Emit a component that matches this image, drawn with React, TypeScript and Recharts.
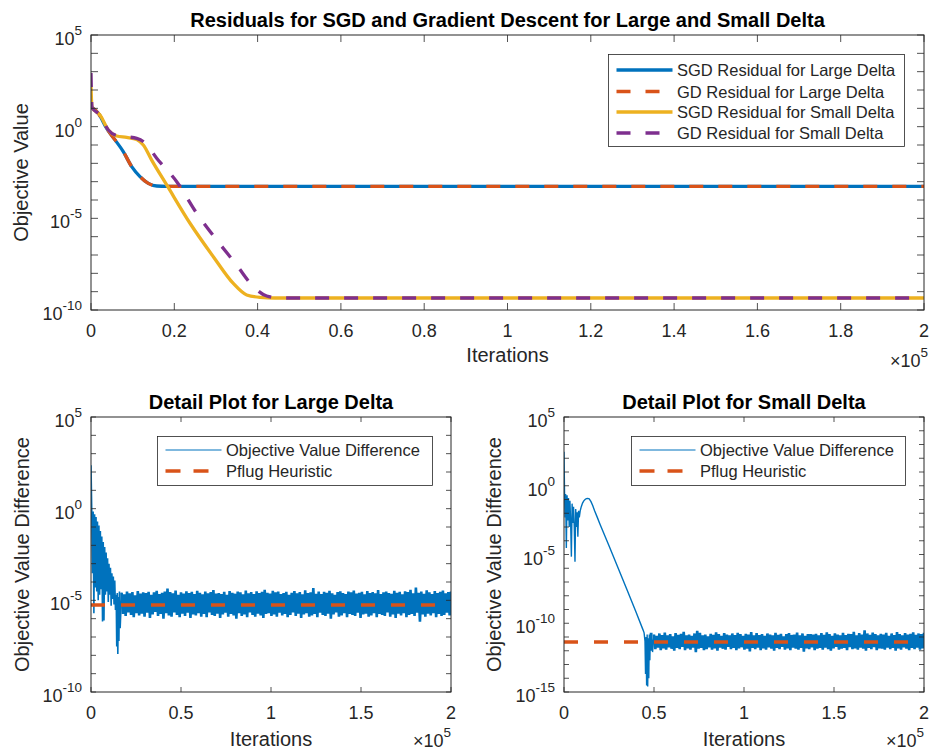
import { LineChart, Line, XAxis, YAxis } from "recharts";

const FONT = '"Liberation Sans", Arial, Helvetica, sans-serif';
const INK = "#262626";
const BLUE = "#0072BD";
const ORANGE = "#D95319";
const YELLOW = "#EDB120";
const PURPLE = "#7E2F8E";

// top panel: residual curves
const sgdLargeIter = [0, 1750, 3770, 5760, 7750, 9770, 11760, 13760, 15770, 18180, 25000, 200000];
const sgdLargeVal = [12, 5.4, 0.8, 0.19, 0.044, 6.6e-3, 1.9e-3, 8.1e-4, 5.8e-4, 5.6e-4, 5.6e-4, 5.6e-4];
const gdLargeIter = [0, 1750, 3770, 5760, 7750, 9770, 11760, 13760, 15770, 18180, 25000, 200000];
const gdLargeVal = [12, 5.4, 0.8, 0.19, 0.044, 6.6e-3, 1.9e-3, 8.1e-4, 5.8e-4, 5.6e-4, 5.6e-4, 5.6e-4];
const sgdSmallIter = [0, 250, 2160, 4150, 6170, 8570, 10970, 12560, 14570, 18180, 23770, 29370, 34170, 37390, 40580, 44180, 200000];
const sgdSmallVal = [150, 11, 4.3, 0.66, 0.31, 0.26, 0.2, 0.1, 0.015, 6.6e-4, 5.4e-6, 8.1e-8, 2.8e-9, 6.6e-10, 4.9e-10, 4.5e-10, 4.5e-10];
const gdSmallIter = [0, 250, 2160, 4150, 6170, 8570, 10970, 12970, 15770, 20580, 25380, 30180, 34980, 38970, 42190, 45380, 200000];
const gdSmallVal = [850, 11, 4.3, 0.66, 0.33, 0.28, 0.23, 0.13, 0.019, 1e-3, 1.9e-5, 6.6e-7, 2.8e-8, 1.9e-9, 5.8e-10, 4.5e-10, 4.5e-10];

// bottom left: large delta difference
const largeEarlyIter = [0, 400, 800, 1200, 1600, 2000, 2400, 2800, 3200, 3600, 4000, 4400, 4800, 5200, 5600, 6000, 6400, 6800, 7200, 7600, 8000, 8400, 8800, 9200, 9600, 10000, 10400, 10800, 11200, 11600, 12000, 12400, 12800, 13200, 13600, 14000, 14300, 14600, 14900, 15200, 15500, 15800, 16200, 17000];
const largeEarlyVal = [230, 0.9, 3e-4, 0.7, 2e-6, 0.5, 5e-5, 0.35, 3e-5, 0.2, 1e-5, 0.12, 2e-5, 0.06, 4e-5, 0.03, 7e-7, 0.015, 8e-7, 8e-3, 2e-5, 4e-3, 3e-5, 2e-3, 8e-6, 1e-3, 2e-5, 6e-4, 5e-6, 3e-4, 1.2e-5, 2e-4, 6e-6, 1.2e-4, 3e-6, 2e-5, 3e-8, 2.5e-5, 1.2e-8, 1.5e-5, 6e-8, 3e-5, 3e-7, 2.6e-5];
const largeBandStart = 17000;
const largeBandStep = 1500;
const largeBandHigh = [
  2.6e-5, 2.1e-5, 3.0e-5, 2.4e-5, 2.8e-5, 1.9e-5, 3.2e-5, 2.3e-5, 2.7e-5, 2.5e-5,
  2.9e-5, 2.0e-5, 2.7e-5, 3.3e-5, 2.2e-5, 2.6e-5, 3.0e-5, 4.4e-5, 2.8e-5, 2.4e-5,
  3.4e-5, 2.0e-5, 2.7e-5, 2.3e-5, 3.1e-5, 2.5e-5, 2.9e-5, 2.2e-5, 3.3e-5, 2.6e-5,
  2.1e-5, 3.0e-5, 2.4e-5, 2.8e-5, 3.6e-5, 2.3e-5, 2.5e-5, 2.2e-5, 2.9e-5, 2.0e-5,
  3.2e-5, 2.6e-5, 2.3e-5, 3.0e-5, 2.7e-5, 2.1e-5, 3.4e-5, 2.4e-5, 2.8e-5, 2.2e-5,
  3.1e-5, 2.5e-5, 2.9e-5, 3.8e-5, 2.6e-5, 2.3e-5, 3.3e-5, 2.7e-5, 3.0e-5, 2.2e-5,
  2.5e-5, 2.9e-5, 2.0e-5, 2.6e-5, 3.2e-5, 2.4e-5, 2.8e-5, 2.1e-5, 3.5e-5, 2.5e-5,
  2.7e-5, 4.6e-5, 2.3e-5, 3.0e-5, 2.2e-5, 2.9e-5, 2.6e-5, 3.3e-5, 2.4e-5, 2.0e-5,
  2.8e-5, 3.1e-5, 2.5e-5, 2.2e-5, 3.0e-5, 2.7e-5, 3.4e-5, 2.3e-5, 2.6e-5, 2.9e-5,
  2.1e-5, 3.2e-5, 2.5e-5, 2.8e-5, 2.4e-5, 3.6e-5, 2.2e-5, 2.7e-5, 3.0e-5, 2.5e-5,
  2.3e-5, 3.3e-5, 2.6e-5, 2.9e-5, 2.1e-5, 3.1e-5, 2.8e-5, 3.7e-5, 2.4e-5, 5.0e-5,
  2.6e-5, 3.0e-5, 2.3e-5, 3.5e-5, 2.7e-5, 2.2e-5, 3.2e-5, 2.5e-5, 2.9e-5, 3.4e-5,
  2.4e-5, 2.8e-5, 3.0e-5,
];
const largeBandLow = [
  1.8e-6, 1.4e-6, 2.2e-6, 1.6e-6, 1.2e-6, 2.0e-6, 1.5e-6, 1.9e-6, 1.3e-6, 2.1e-6,
  1.1e-6, 1.7e-6, 2.3e-6, 1.4e-6, 1.8e-6, 1.0e-6, 2.0e-6, 1.5e-6, 1.3e-6, 2.2e-6,
  1.6e-6, 1.2e-6, 1.9e-6, 1.4e-6, 2.1e-6, 1.1e-6, 1.7e-6, 1.5e-6, 2.0e-6, 1.3e-6,
  1.8e-6, 1.2e-6, 2.2e-6, 1.6e-6, 1.4e-6, 1.9e-6, 1.1e-6, 1.7e-6, 2.1e-6, 1.3e-6,
  1.8e-6, 1.5e-6, 1.0e-6, 2.0e-6, 1.4e-6, 1.7e-6, 1.2e-6, 2.2e-6, 1.6e-6, 1.3e-6,
  1.9e-6, 1.5e-6, 1.1e-6, 1.8e-6, 2.0e-6, 1.4e-6, 1.7e-6, 1.3e-6, 2.1e-6, 1.5e-6,
  1.8e-6, 1.2e-6, 1.6e-6, 2.2e-6, 1.4e-6, 1.9e-6, 1.1e-6, 1.7e-6, 2.0e-6, 1.3e-6,
  1.5e-6, 1.8e-6, 1.2e-6, 2.1e-6, 1.6e-6, 1.4e-6, 1.9e-6, 1.0e-6, 1.7e-6, 2.2e-6,
  1.3e-6, 1.5e-6, 2.0e-6, 1.2e-6, 1.8e-6, 1.6e-6, 1.4e-6, 2.1e-6, 1.1e-6, 1.7e-6,
  1.9e-6, 1.3e-6, 1.5e-6, 2.0e-6, 1.2e-6, 1.8e-6, 1.6e-6, 1.4e-6, 2.2e-6, 1.3e-6,
  1.7e-6, 1.1e-6, 1.9e-6, 1.5e-6, 2.0e-6, 1.2e-6, 1.6e-6, 1.8e-6, 1.4e-6, 2.1e-6,
  6.8e-7, 1.7e-6, 1.3e-6, 1.9e-6, 1.5e-6, 2.0e-6, 1.2e-6, 1.8e-6, 1.4e-6, 1.6e-6,
  2.1e-6, 1.5e-6,
];
const pflugLargeIter = [0, 200000];
const pflugLargeVal = [5.5e-6, 5.5e-6];

// bottom right: small delta difference
const smallEarlyIter = [0, 300, 600, 900, 1300, 1700, 2100, 2500, 2900, 3300, 3700, 4100, 4500, 4900, 5300, 5700, 6100, 6500, 6900, 7300, 7700, 8100, 8500, 9000, 9600, 10300, 11000, 11700, 12400, 13200, 14000, 15000, 16000, 17000, 18500, 20000, 25000, 30000, 35000, 40000, 43900, 44500, 45000, 45300, 45600, 45900, 46200, 46500, 46800, 47100, 47400, 47700, 48000, 48400, 48800, 49200, 50000];
const smallEarlyVal = [300, 0.3, 5e-3, 0.25, 3e-5, 0.2, 3e-3, 0.13, 1e-3, 0.08, 2e-3, 7e-6, 0.05, 2e-3, 0.03, 1e-3, 3e-6, 0.02, 1e-3, 0.012, 2e-4, 0.015, 5e-3, 0.015, 0.03, 0.055, 0.08, 0.1, 0.115, 0.12, 0.11, 0.07, 0.035, 0.015, 5e-3, 1.6e-3, 4.3e-5, 1.1e-6, 2.7e-8, 6.5e-10, 3.3e-11, 2e-11, 5e-12, 2e-14, 1e-11, 3e-15, 1.5e-11, 2.5e-15, 8e-12, 1e-14, 1.5e-11, 2e-13, 2e-11, 1e-12, 2e-11, 8e-13, 1.5e-11];
const smallBandStart = 50000;
const smallBandStep = 1500;
const smallBandHigh = [
  1.5e-11, 1.2e-11, 1.8e-11, 1.4e-11, 2.1e-11, 1.3e-11, 1.6e-11, 1.1e-11, 1.9e-11, 1.4e-11,
  1.7e-11, 2.4e-11, 1.3e-11, 1.5e-11, 1.2e-11, 1.8e-11, 2.8e-11, 2.0e-11, 1.3e-11, 1.5e-11,
  1.1e-11, 1.7e-11, 1.4e-11, 2.2e-11, 1.6e-11, 1.2e-11, 1.9e-11, 1.5e-11, 1.3e-11, 1.8e-11,
  1.4e-11, 2.0e-11, 1.6e-11, 1.2e-11, 1.7e-11, 1.5e-11, 2.3e-11, 1.3e-11, 1.9e-11, 1.4e-11,
  1.6e-11, 1.2e-11, 1.8e-11, 1.5e-11, 1.3e-11, 2.0e-11, 1.4e-11, 1.7e-11, 1.1e-11, 1.6e-11,
  1.9e-11, 1.4e-11, 1.5e-11, 2.1e-11, 1.3e-11, 1.8e-11, 1.2e-11, 1.6e-11, 1.6e-11, 1.5e-11,
  1.7e-11, 1.3e-11, 1.9e-11, 1.4e-11, 2.2e-11, 1.6e-11, 1.2e-11, 1.8e-11, 1.5e-11, 1.3e-11,
  2.0e-11, 1.4e-11, 1.7e-11, 1.6e-11, 2.4e-11, 1.3e-11, 1.9e-11, 1.5e-11, 3.0e-11, 1.8e-11,
  1.4e-11, 2.1e-11, 1.6e-11, 1.3e-11, 1.7e-11, 1.5e-11, 2.0e-11, 1.2e-11, 1.8e-11, 1.4e-11,
  2.3e-11, 1.6e-11, 1.3e-11, 1.9e-11, 1.5e-11, 1.7e-11, 2.2e-11, 1.4e-11, 1.8e-11, 1.6e-11,
  2.0e-11,
];
const smallBandLow = [
  1.3e-12, 1.7e-12, 1.1e-12, 1.5e-12, 1.2e-12, 1.8e-12, 1.4e-12, 1.0e-12, 1.6e-12, 1.3e-12,
  1.9e-12, 1.1e-12, 1.5e-12, 1.2e-12, 1.7e-12, 8.0e-13, 1.4e-12, 1.6e-12, 1.1e-12, 1.3e-12,
  1.8e-12, 1.2e-12, 1.5e-12, 1.0e-12, 1.7e-12, 1.4e-12, 1.2e-12, 1.9e-12, 1.3e-12, 1.6e-12,
  1.1e-12, 1.5e-12, 1.8e-12, 1.2e-12, 1.4e-12, 9.0e-13, 1.6e-12, 1.3e-12, 1.7e-12, 1.1e-12,
  1.5e-12, 1.2e-12, 1.8e-12, 1.4e-12, 1.0e-12, 1.6e-12, 1.3e-12, 1.9e-12, 1.2e-12, 1.5e-12,
  1.1e-12, 1.7e-12, 1.4e-12, 1.2e-12, 1.6e-12, 8.5e-13, 1.5e-12, 1.3e-12, 1.8e-12, 1.1e-12,
  1.4e-12, 1.6e-12, 1.2e-12, 1.7e-12, 1.3e-12, 1.0e-12, 1.5e-12, 1.9e-12, 1.2e-12, 1.4e-12,
  1.6e-12, 1.1e-12, 1.8e-12, 1.3e-12, 1.5e-12, 1.2e-12, 1.7e-12, 1.4e-12, 1.0e-12, 1.6e-12,
  1.3e-12, 1.8e-12, 1.1e-12, 1.5e-12, 1.4e-12, 1.2e-12, 1.7e-12, 1.3e-12, 1.6e-12, 1.0e-12,
  1.5e-12, 1.2e-12, 1.8e-12, 1.4e-12, 1.1e-12, 1.6e-12, 1.3e-12, 1.7e-12, 1.2e-12, 1.5e-12,
];
const pflugSmallIter = [0, 200000];
const pflugSmallVal = [4.3e-12, 4.3e-12];

// axes
const topXTicks = [0, 20000, 40000, 60000, 80000, 100000, 120000, 140000, 160000, 180000, 200000];
const topXLabels = ["0", "0.2", "0.4", "0.6", "0.8", "1", "1.2", "1.4", "1.6", "1.8", "2"];
const bottomXTicks = [0, 50000, 100000, 150000, 200000];
const bottomXLabels = ["0", "0.5", "1", "1.5", "2"];
const yTicks15 = [1e-10, 1e-9, 1e-8, 1e-7, 1e-6, 1e-5, 1e-4, 1e-3, 1e-2, 1e-1, 1, 10, 100, 1e3, 1e4, 1e5];
const yTicks20 = [1e-15, 1e-14, 1e-13, 1e-12, 1e-11, ...yTicks15];

type Pt = { it: number; v: number };

const toPoints = (its: number[], vs: number[]): Pt[] => its.map((it, i) => ({ it, v: vs[i] }));

// noisy band: alternate high/low samples
const band = (start: number, step: number, highs: number[], lows: number[]): Pt[] => {
  const pts: Pt[] = [];
  highs.forEach((h, i) => {
    pts.push({ it: start + i * step, v: h });
    if (i < lows.length) pts.push({ it: start + i * step + step / 2, v: lows[i] });
  });
  return pts;
};

const largeEarly = toPoints(largeEarlyIter, largeEarlyVal);
const largeBand = band(largeBandStart, largeBandStep, largeBandHigh, largeBandLow);
const smallEarly = toPoints(smallEarlyIter, smallEarlyVal);
const smallBand = band(smallBandStart, smallBandStep, smallBandHigh, smallBandLow);

function makeYTick(plotW: number, len: number) {
  return (props: any) => {
    const { x, y, payload } = props;
    const exp = Math.round(Math.log10(payload.value));
    return (
      <g>
        <line x1={x} x2={x + len} y1={y} y2={y} stroke={INK} strokeWidth={0.8} />
        <line x1={x + plotW - len} x2={x + plotW} y1={y} y2={y} stroke={INK} strokeWidth={0.8} />
        {exp % 5 === 0 && (
          <text x={x - 9} y={y + 10} textAnchor="end" fill={INK} fontSize={18} fontFamily={FONT}>
            10
            <tspan dy={-10} fontSize={13.5}>
              {exp}
            </tspan>
          </text>
        )}
      </g>
    );
  };
}

function makeXTick(plotH: number, len: number, ticks: number[], labels: string[]) {
  return (props: any) => {
    const { x, y, payload } = props;
    const label = labels[ticks.indexOf(payload.value)];
    return (
      <g>
        <line x1={x} x2={x} y1={y} y2={y - len} stroke={INK} strokeWidth={0.8} />
        <line x1={x} x2={x} y1={y - plotH} y2={y - plotH + len} stroke={INK} strokeWidth={0.8} />
        <text x={x} y={y + 27} textAnchor="middle" fill={INK} fontSize={18} fontFamily={FONT}>
          {label}
        </text>
      </g>
    );
  };
}

interface PanelProps {
  left: number;
  top: number;
  width: number;
  height: number;
  plotLeft: number;
  plotTop: number;
  plotW: number;
  plotH: number;
  yTicks: number[];
  xTicks: number[];
  xLabels: string[];
  tickLen: number;
  children: React.ReactNode;
}

function Panel(p: PanelProps) {
  return (
    <div style={{ position: "absolute", left: p.left, top: p.top }}>
      <LineChart
        width={p.width}
        height={p.height}
        margin={{ top: p.plotTop, left: 0, bottom: 0, right: p.width - p.plotLeft - p.plotW }}
      >
        <XAxis
          dataKey="it"
          type="number"
          domain={[0, 200000]}
          ticks={p.xTicks}
          interval={0}
          allowDataOverflow
          axisLine={false}
          tickLine={false}
          tickSize={0}
          tickMargin={0}
          height={p.height - p.plotTop - p.plotH}
          tick={makeXTick(p.plotH, p.tickLen, p.xTicks, p.xLabels)}
        />
        <YAxis
          type="number"
          scale="log"
          domain={[p.yTicks[0], p.yTicks[p.yTicks.length - 1]]}
          ticks={p.yTicks}
          interval={0}
          allowDataOverflow
          axisLine={false}
          tickLine={false}
          tickSize={0}
          tickMargin={0}
          width={p.plotLeft}
          tick={makeYTick(p.plotW, p.tickLen)}
        />
        {p.children}
      </LineChart>
    </div>
  );
}

const TEXT = { fontFamily: FONT, fill: INK };

function LegendBox({ x, y, w, h, items, textX }: { x: number; y: number; w: number; h: number; textX: number; items: { label: string; color: string; width: number; dash?: string; cy: number }[] }) {
  return (
    <g>
      <rect x={x} y={y} width={w} height={h} fill="#fff" stroke={INK} strokeWidth={0.8} />
      {items.map((it) => (
        <g key={it.label}>
          <line x1={x + 8} x2={x + 64} y1={it.cy} y2={it.cy} stroke={it.color} strokeWidth={it.width} strokeDasharray={it.dash} />
          <text x={textX} y={it.cy + 6} fontSize={16.5} {...TEXT}>
            {it.label}
          </text>
        </g>
      ))}
    </g>
  );
}

function Times10({ x, y }: { x: number; y: number }) {
  return (
    <text x={x} y={y} textAnchor="end" fontSize={18} {...TEXT}>
      ×10
      <tspan dy={-10} fontSize={13.5}>
        5
      </tspan>
    </text>
  );
}

export default function App() {
  return (
    <div style={{ position: "absolute", left: 0, top: 0, width: 934, height: 751, background: "#fff", overflow: "hidden" }}>
      <Panel left={0} top={0} width={934} height={370} plotLeft={91} plotTop={35} plotW={833} plotH={275} yTicks={yTicks15} xTicks={topXTicks} xLabels={topXLabels} tickLen={7}>
        <Line data={toPoints(sgdLargeIter, sgdLargeVal)} dataKey="v" type="monotone" stroke={BLUE} strokeWidth={3.3} dot={false} activeDot={false} isAnimationActive={false} />
        <Line data={toPoints(gdLargeIter, gdLargeVal)} dataKey="v" type="monotone" stroke={ORANGE} strokeWidth={3.3} strokeDasharray="14 15" dot={false} activeDot={false} isAnimationActive={false} />
        <Line data={toPoints(sgdSmallIter, sgdSmallVal)} dataKey="v" type="monotone" stroke={YELLOW} strokeWidth={3.3} dot={false} activeDot={false} isAnimationActive={false} />
        <Line data={toPoints(gdSmallIter, gdSmallVal)} dataKey="v" type="monotone" stroke={PURPLE} strokeWidth={3.3} strokeDasharray="14 15" dot={false} activeDot={false} isAnimationActive={false} />
      </Panel>
      <Panel left={0} top={380} width={470} height={371} plotLeft={91} plotTop={37} plotW={360} plotH={275} yTicks={yTicks15} xTicks={bottomXTicks} xLabels={bottomXLabels} tickLen={5}>
        <Line data={largeEarly} dataKey="v" type="linear" stroke={BLUE} strokeWidth={1.6} dot={false} activeDot={false} isAnimationActive={false} />
        <Line data={largeBand} dataKey="v" type="linear" stroke={BLUE} strokeWidth={2.6} dot={false} activeDot={false} isAnimationActive={false} />
        <Line data={toPoints(pflugLargeIter, pflugLargeVal)} dataKey="v" type="linear" stroke={ORANGE} strokeWidth={3.5} strokeDasharray="14 16" dot={false} activeDot={false} isAnimationActive={false} />
      </Panel>
      <Panel left={470} top={380} width={464} height={371} plotLeft={94} plotTop={37} plotW={360} plotH={275} yTicks={yTicks20} xTicks={bottomXTicks} xLabels={bottomXLabels} tickLen={5}>
        <Line data={smallEarly} dataKey="v" type="linear" stroke={BLUE} strokeWidth={1.4} dot={false} activeDot={false} isAnimationActive={false} />
        <Line data={smallBand} dataKey="v" type="linear" stroke={BLUE} strokeWidth={2.6} dot={false} activeDot={false} isAnimationActive={false} />
        <Line data={toPoints(pflugSmallIter, pflugSmallVal)} dataKey="v" type="linear" stroke={ORANGE} strokeWidth={3.5} strokeDasharray="14 16" dot={false} activeDot={false} isAnimationActive={false} />
      </Panel>

      <svg width={934} height={751} style={{ position: "absolute", left: 0, top: 0, pointerEvents: "none" }}>
        {/* axes boxes */}
        <rect x={91} y={35} width={833} height={275} fill="none" stroke={INK} strokeWidth={1} />
        <rect x={91} y={417} width={360} height={275} fill="none" stroke={INK} strokeWidth={1} />
        <rect x={564} y={417} width={360} height={275} fill="none" stroke={INK} strokeWidth={1} />

        {/* titles */}
        <text x={507.5} y={27} textAnchor="middle" fontSize={20} fontWeight="bold" fontFamily={FONT} fill="#000">
          Residuals for SGD and Gradient Descent for Large and Small Delta
        </text>
        <text x={271} y={409} textAnchor="middle" fontSize={20} fontWeight="bold" fontFamily={FONT} fill="#000">
          Detail Plot for Large Delta
        </text>
        <text x={744} y={409} textAnchor="middle" fontSize={20} fontWeight="bold" fontFamily={FONT} fill="#000">
          Detail Plot for Small Delta
        </text>

        {/* axis labels */}
        <text x={507.5} y={362} textAnchor="middle" fontSize={20} {...TEXT}>Iterations</text>
        <text x={271} y={746} textAnchor="middle" fontSize={20} {...TEXT}>Iterations</text>
        <text x={744} y={746} textAnchor="middle" fontSize={20} {...TEXT}>Iterations</text>
        <text transform="translate(28,172.5) rotate(-90)" textAnchor="middle" fontSize={20} {...TEXT}>Objective Value</text>
        <text transform="translate(29,554.5) rotate(-90)" textAnchor="middle" fontSize={20} {...TEXT}>Objective Value Difference</text>
        <text transform="translate(501,554.5) rotate(-90)" textAnchor="middle" fontSize={20} {...TEXT}>Objective Value Difference</text>

        <Times10 x={928} y={367} />
        <Times10 x={451} y={747} />
        <Times10 x={924} y={747} />

        {/* legends */}
        <LegendBox
          x={608.5}
          y={54.5}
          w={296}
          h={92}
          textX={677}
          items={[
            { label: "SGD Residual for Large Delta", color: BLUE, width: 3.3, cy: 70 },
            { label: "GD Residual for Large Delta", color: ORANGE, width: 3.3, dash: "14 15", cy: 91.5 },
            { label: "SGD Residual for Small Delta", color: YELLOW, width: 3.3, cy: 112 },
            { label: "GD Residual for Small Delta", color: PURPLE, width: 3.3, dash: "14 15", cy: 133 },
          ]}
        />
        <LegendBox
          x={157.5}
          y={436.5}
          w={275}
          h={49}
          textX={226}
          items={[
            { label: "Objective Value Difference", color: BLUE, width: 1.2, cy: 450 },
            { label: "Pflug Heuristic", color: ORANGE, width: 3.5, dash: "15 13", cy: 471 },
          ]}
        />
        <LegendBox
          x={631.5}
          y={436.5}
          w={274}
          h={49}
          textX={700}
          items={[
            { label: "Objective Value Difference", color: BLUE, width: 1.2, cy: 450 },
            { label: "Pflug Heuristic", color: ORANGE, width: 3.5, dash: "15 13", cy: 471 },
          ]}
        />
      </svg>
    </div>
  );
}
